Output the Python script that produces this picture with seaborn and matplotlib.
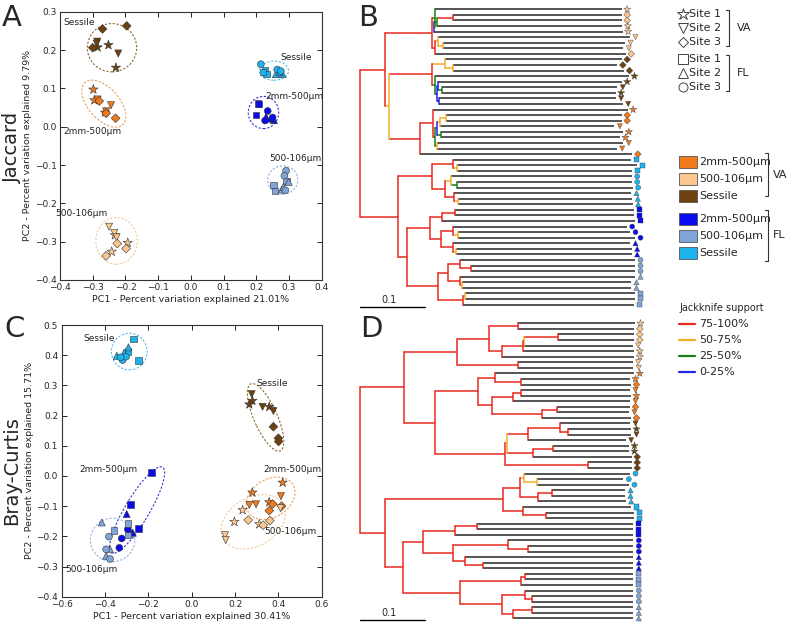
import numpy as np
import pandas as pd
import matplotlib
matplotlib.use('Agg')
import matplotlib.pyplot as plt
from matplotlib.patches import Ellipse, Rectangle
import seaborn as sns

# -----------------------------------------------------------------------------
# Groups, colours, site shapes
# -----------------------------------------------------------------------------
GROUPS = ['VA 2mm', 'VA 500', 'VA ses', 'FL 2mm', 'FL 500', 'FL ses']
GROUP_NAMES = ['2mm-500μm', '500-106μm', 'Sessile', '2mm-500μm', '500-106μm', 'Sessile']
GROUP_COLORS = {
    'VA 2mm': '#f07a1c', 'VA 500': '#fcc78e', 'VA ses': '#6e420f',
    'FL 2mm': '#0a0aee', 'FL 500': '#7fa5d8', 'FL ses': '#1cb2ee',
}
ELLIPSE_COLORS = {
    'VA 2mm': '#e8a060', 'VA 500': '#f3c99c', 'VA ses': '#8c6a30',
    'FL 2mm': '#3535cc', 'FL 500': '#93b3da', 'FL ses': '#56bde6',
}
# every group holds 9 samples: site 1, 1, 1, site 2 x3, site 3 x3
SITES = [1, 1, 1, 2, 2, 2, 3, 3, 3]
MARKERS = {'VA1': '*', 'VA2': 'v', 'VA3': 'D', 'FL1': 's', 'FL2': '^', 'FL3': 'o'}
SIZES = {'VA1': 50, 'VA2': 26, 'VA3': 20, 'FL1': 22, 'FL2': 26, 'FL3': 24}
LEAF_SIZES = {'VA1': 30, 'VA2': 14, 'VA3': 12, 'FL1': 13, 'FL2': 14, 'FL3': 13}

# -----------------------------------------------------------------------------
# PCoA coordinates — Jaccard (A)
# -----------------------------------------------------------------------------
jac_pc1 = {
    'VA 2mm': [-0.298, -0.295, -0.262, -0.244, -0.259, -0.285, -0.280, -0.259, -0.230],
    'VA 500': [-0.232, -0.193, -0.242, -0.250, -0.234, -0.227, -0.225, -0.198, -0.259],
    'VA ses': [-0.285, -0.252, -0.229, -0.286, -0.222, -0.288, -0.270, -0.196, -0.300],
    'FL 2mm': [0.206, 0.199, 0.209, 0.230, 0.254, 0.244, 0.235, 0.227, 0.250],
    'FL 500': [0.252, 0.257, 0.293, 0.278, 0.299, 0.283, 0.291, 0.286, 0.289],
    'FL ses': [0.227, 0.232, 0.220, 0.260, 0.281, 0.271, 0.214, 0.264, 0.275],
}
jac_pc2 = {
    'VA 2mm': [0.097, 0.069, 0.037, 0.056, 0.040, 0.071, 0.067, 0.035, 0.022],
    'VA 500': [-0.283, -0.303, -0.326, -0.261, -0.277, -0.289, -0.305, -0.318, -0.337],
    'VA ses': [0.207, 0.213, 0.154, 0.222, 0.191, 0.217, 0.255, 0.263, 0.206],
    'FL 2mm': [0.061, 0.030, 0.059, 0.026, 0.017, 0.021, 0.041, 0.016, 0.024],
    'FL 500': [-0.152, -0.168, -0.142, -0.164, -0.144, -0.157, -0.115, -0.128, -0.166],
    'FL ses': [0.146, 0.137, 0.143, 0.137, 0.137, 0.142, 0.163, 0.149, 0.145],
}
# ellipse: centre x, centre y, width, height, angle
jac_ell = {
    'VA 2mm': (-0.266, 0.060, 0.160, 0.088, -40),
    'VA 500': (-0.227, -0.298, 0.127, 0.122, 0),
    'VA ses': (-0.241, 0.206, 0.151, 0.126, 0),
    'FL 2mm': (0.222, 0.037, 0.093, 0.084, 0),
    'FL 500': (0.281, -0.139, 0.092, 0.074, 0),
    'FL ses': (0.254, 0.146, 0.089, 0.050, 0),
}

# -----------------------------------------------------------------------------
# PCoA coordinates — Bray-Curtis (C)
# -----------------------------------------------------------------------------
bc_pc1 = {
    'VA 2mm': [0.420, 0.280, 0.358, 0.412, 0.266, 0.297, 0.358, 0.415, 0.374],
    'VA 500': [0.235, 0.197, 0.312, 0.154, 0.157, 0.410, 0.261, 0.361, 0.330],
    'VA ses': [0.280, 0.266, 0.358, 0.277, 0.327, 0.377, 0.377, 0.400, 0.401],
    'FL 2mm': [-0.185, -0.282, -0.246, -0.300, -0.272, -0.288, -0.295, -0.323, -0.334],
    'FL 500': [-0.359, -0.295, -0.295, -0.415, -0.377, -0.395, -0.382, -0.395, -0.377],
    'FL ses': [-0.269, -0.246, -0.295, -0.292, -0.346, -0.312, -0.319, -0.303, -0.328],
}
bc_pc2 = {
    'VA 2mm': [-0.022, -0.055, -0.087, -0.067, -0.096, -0.094, -0.115, -0.100, -0.093],
    'VA 500': [-0.113, -0.152, -0.160, -0.196, -0.212, -0.107, -0.146, -0.148, -0.163],
    'VA ses': [0.249, 0.237, 0.229, 0.271, 0.229, 0.215, 0.163, 0.125, 0.114],
    'FL 2mm': [0.011, -0.094, -0.174, -0.126, -0.188, -0.179, -0.177, -0.207, -0.238],
    'FL 500': [-0.181, -0.157, -0.196, -0.154, -0.243, -0.265, -0.201, -0.243, -0.275],
    'FL ses': [0.454, 0.382, 0.412, 0.426, 0.398, 0.408, 0.384, 0.395, 0.393],
}
bc_ell = {
    'VA 2mm': (0.364, -0.074, 0.231, 0.132, 15),
    'VA 500': (0.284, -0.152, 0.305, 0.168, 15),
    'VA ses': (0.341, 0.194, 0.262, 0.100, -56),
    'FL 2mm': (-0.252, -0.113, 0.370, 0.100, 49),
    'FL 500': (-0.365, -0.212, 0.205, 0.144, 0),
    'FL ses': (-0.288, 0.412, 0.165, 0.121, 0),
}

# -----------------------------------------------------------------------------
# UPGMA trees: (node depth, jackknife class, children) ; leaves are indices
# r = 75-100 %, o = 50-75 %, g = 25-50 %, b = 0-25 %
# -----------------------------------------------------------------------------
TREE_B = (0.0, 'r', [
    (0.0385, 'r', [
        (0.1108, 'r', [
            (0.1154, 'g', [0, (0.1138, 'b', [(0.1185, 'g', [(0.1431, 'r', [1, 2]), 3]), 4])]),
            (0.1154, 'r', [(0.12, 'o', [5, (0.1277, 'o', [6, 7])]), 8])]),
        (0.0446, 'o', [
            (0.1108, 'r', [
                (0.1308, 'o', [9, (0.1431, 'o', [10, 11])]),
                (0.1154, 'g', [12, (0.1185, 'b', [(0.12, 'b', [13, (0.1262, 'g', [14, 15])]),
                                                  (0.1215, 'b', [16, 17])])])]),
            (0.0923, 'r', [
                (0.1123, 'r', [18, (0.1154, 'g', [
                    (0.1185, 'b', [(0.1231, 'o', [(0.1323, 'o', [19, 20]), 21]),
                                   (0.1246, 'g', [22, 23])]),
                    (0.1185, 'o', [24, 25])])]),
                26])])]),
    (0.0585, 'r', [
        (0.1108, 'r', [
            (0.1431, 'r', [27, (0.1492, 'o', [28, 29])]),
            (0.1308, 'r', [(0.14, 'o', [30, (0.1492, 'g', [31, 32])]),
                           (0.1446, 'r', [33, (0.1508, 'o', [34, 35])])])]),
        (0.0723, 'r', [
            (0.1077, 'r', [
                (0.1262, 'r', [(0.1462, 'r', [36, 37]), 38]),
                (0.1246, 'r', [(0.1431, 'r', [39, (0.1508, 'o', [40, 41])]),
                               (0.1431, 'r', [42, (0.1477, 'o', [43, 44])])])]),
            (0.12, 'r', [
                (0.1354, 'r', [(0.1538, 'r', [45, (0.1708, 'r', [46, 47])]),
                               (0.1538, 'r', [48, (0.1569, 'o', [49, 50])])]),
                (0.1585, 'r', [(0.1615, 'o', [51, 52]), 53])])])])])

TREE_D = (0.0, 'r', [
    (0.0677, 'r', [
        (0.1492, 'r', [
            (0.1985, 'r', [
                (0.2431, 'r', [0, 1]),
                (0.2185, 'r', [(0.2508, 'r', [(0.2523, 'o', [(0.3046, 'r', [2, 3]), 4]), 5]), 6])]),
            (0.2431, 'r', [7, 8])]),
        (0.1154, 'r', [
            (0.1815, 'r', [
                (0.2077, 'r', [9, (0.2477, 'r', [10, 11])]),
                (0.2031, 'r', [(0.2354, 'r', [(0.2477, 'r', [12, 13]), 14]),
                               (0.28, 'r', [(0.3031, 'r', [15, 16]), 17])])]),
            (0.2231, 'r', [
                (0.2262, 'o', [(0.2585, 'r', [(0.3077, 'r', [18, (0.32, 'r', [19, 20])]), 21]),
                               (0.2662, 'r', [(0.2969, 'r', [22, 23]), 24])]),
                (0.3508, 'r', [25, 26])])])]),
    (0.0385, 'r', [
        (0.22, 'r', [
            (0.2462, 'r', [(0.2523, 'o', [27, (0.2723, 'o', [28, 29])]),
                           (0.2738, 'r', [(0.2954, 'r', [30, 31]), 32])]),
            (0.2508, 'r', [33, (0.2862, 'r', [34, 35])])]),
        (0.0662, 'r', [
            (0.0969, 'r', [
                (0.1462, 'r', [(0.18, 'r', [36, 37]), 38]),
                (0.1431, 'r', [(0.2277, 'r', [39, (0.2585, 'r', [40, 41])]),
                               (0.1615, 'r', [42, (0.1892, 'r', [43, 44])])])]),
            (0.1538, 'r', [
                (0.2477, 'r', [(0.2538, 'r', [45, 46]), 47]),
                (0.2185, 'r', [(0.2538, 'r', [48, (0.2646, 'r', [49, 50])]),
                               (0.2354, 'r', [(0.2646, 'r', [51, 52]), 53])])])])])])

# leaf tip distances
ENDS_B = [0.4026, 0.4026, 0.4026, 0.4036, 0.4041, 0.4154, 0.4077, 0.4051, 0.4087,
          0.4026, 0.3959, 0.4062, 0.4138, 0.4026, 0.3959, 0.3933, 0.3933, 0.4041,
          0.4118, 0.4026, 0.4026, 0.3913, 0.4051, 0.4000, 0.4051, 0.3949, 0.4190,
          0.4169, 0.4256, 0.4180, 0.4180, 0.4180, 0.4195, 0.4169, 0.4190, 0.4195,
          0.4220, 0.4220, 0.4231, 0.4103, 0.4154, 0.4231, 0.4154, 0.4180, 0.4180,
          0.4231, 0.4231, 0.4231, 0.4231, 0.4169, 0.4169, 0.4231, 0.4231, 0.4215]
ENDS_D = [0.4231, 0.4220, 0.4220, 0.4220, 0.4195, 0.4220, 0.4220, 0.4195, 0.4205,
          0.4220, 0.4154, 0.4169, 0.4154, 0.4169, 0.4154, 0.4154, 0.4138, 0.4169,
          0.4154, 0.4169, 0.4169, 0.4087, 0.4138, 0.4138, 0.4180, 0.4180, 0.4180,
          0.4154, 0.4051, 0.4138, 0.4077, 0.4077, 0.4087, 0.4169, 0.4220, 0.4220,
          0.4205, 0.4205, 0.4205, 0.4205, 0.4205, 0.4205, 0.4205, 0.4205, 0.4205,
          0.4205, 0.4205, 0.4205, 0.4205, 0.4205, 0.4205, 0.4205, 0.4205, 0.4205]

# leaf sample group (top to bottom) and site number
LEAF_GROUPS_B = ['VA 500'] * 9 + ['VA ses'] * 9 + ['VA 2mm'] * 9 + ['FL ses'] * 9 + ['FL 2mm'] * 9 + ['FL 500'] * 9
LEAF_SITES_B = [1, 3, 3, 1, 1, 2, 2, 2, 3,
                3, 3, 3, 1, 1, 2, 1, 2, 2,
                1, 3, 3, 2, 1, 1, 2, 2, 3,
                1, 1, 1, 3, 3, 3, 2, 2, 2,
                1, 1, 1, 3, 3, 3, 2, 2, 2,
                3, 3, 3, 2, 2, 2, 1, 1, 1]
LEAF_GROUPS_D = ['VA 500'] * 9 + ['VA 2mm'] * 9 + ['VA ses'] * 9 + ['FL ses'] * 9 + ['FL 2mm'] * 9 + ['FL 500'] * 9
LEAF_SITES_D = [1, 3, 3, 3, 2, 1, 1, 2, 2,
                1, 1, 3, 2, 1, 2, 3, 2, 3,
                2, 1, 2, 2, 1, 1, 3, 3, 3,
                3, 3, 3, 2, 2, 2, 1, 1, 1,
                1, 1, 1, 3, 3, 3, 2, 2, 2,
                1, 1, 1, 3, 3, 3, 2, 2, 2]

SUPPORT_COLORS = {'r': '#e8291f', 'o': '#f2ad2c', 'g': '#1a7f1a', 'b': '#2424e6'}
SUPPORT_LABELS = ['75-100%', '50-75%', '25-50%', '0-25%']


# -----------------------------------------------------------------------------
sns.set_style('ticks')
plt.rcParams['font.family'] = ['DejaVu Sans']
plt.rcParams['axes.edgecolor'] = '#333333'

W, H = 787, 622
fig = plt.figure(figsize=(W / 100, H / 100), dpi=100)


def px_axes(left, top, right, bottom):
    return fig.add_axes([left / W, 1 - bottom / H, (right - left) / W, (bottom - top) / H])


def pcoa_frame(pc1, pc2):
    rows = []
    for g in GROUPS:
        region = g.split()[0]
        for x, y, s in zip(pc1[g], pc2[g], SITES):
            rows.append({'pc1': x, 'pc2': y, 'group': g, 'shape': f'{region}{s}'})
    return pd.DataFrame(rows)


def draw_pcoa(ax, pc1, pc2, ells, xlim, ylim, xticks, yticks, xlabel, ylabel, labels):
    for g, (cx, cy, w, h, ang) in ells.items():
        ax.add_patch(Ellipse((cx, cy), w, h, angle=ang, fill=False, ls=(0, (2, 1.5)),
                             lw=0.8, ec=ELLIPSE_COLORS[g], zorder=1))
    df = pcoa_frame(pc1, pc2)
    sns.scatterplot(data=df, x='pc1', y='pc2', hue='group', style='shape', size='shape',
                    palette=GROUP_COLORS, markers=MARKERS, sizes=SIZES,
                    edgecolor='#333333', linewidth=0.4, legend=False, ax=ax, zorder=3)
    for txt, x, y in labels:
        ax.text(x, y, txt, fontsize=6.5, ha='center', va='center', color='#222222')
    ax.set_xlim(xlim)
    ax.set_ylim(ylim)
    ax.set_xticks(xticks)
    ax.set_yticks(yticks)
    ax.tick_params(direction='in', length=3.5, width=0.7, labelsize=6.5,
                   top=True, right=True, pad=2.5)
    ax.set_xlabel(xlabel, fontsize=6.8, labelpad=2)
    ax.set_ylabel(ylabel, fontsize=6.8, labelpad=2)
    for sp in ax.spines.values():
        sp.set_linewidth(0.8)


def draw_tree(ax, node, ends, parent=None):
    if isinstance(node, int):
        ax.plot([parent, ends[node]], [node, node], color='#262626', lw=1.1,
                solid_capstyle='butt', zorder=2)
        return node
    depth, sup, kids = node
    ys = [draw_tree(ax, k, ends, depth) for k in kids]
    col = SUPPORT_COLORS[sup]
    y = (ys[0] + ys[-1]) / 2
    ax.plot([depth, depth], [ys[0], ys[-1]], color=col, lw=1.1, zorder=3,
            solid_capstyle='projecting')
    if parent is not None:
        ax.plot([parent, depth], [y, y], color=col, lw=1.1, zorder=3,
                solid_capstyle='butt')
    return y


def draw_dendrogram(ax, tree, ends, groups, sites, bar_y):
    draw_tree(ax, tree, ends)
    leaves = pd.DataFrame({
        'x': np.array(ends) + 0.0085,
        'y': np.arange(len(ends)),
        'group': groups,
        'shape': [g.split()[0] + str(s) for g, s in zip(groups, sites)],
    })
    sns.scatterplot(data=leaves, x='x', y='y', hue='group', style='shape', size='shape',
                    palette=GROUP_COLORS, markers=MARKERS, sizes=LEAF_SIZES,
                    edgecolor='#444444', linewidth=0.3, legend=False, ax=ax, zorder=4)
    ax.plot([0, 0.1], [bar_y, bar_y], color='black', lw=1.0)
    ax.text(0.045, bar_y - 0.35, '0.1', fontsize=7, ha='center', va='bottom')
    ax.set_xlim(-0.0077, 0.4462)
    ax.set_ylim(54.5, -1)
    ax.axis('off')


# ---- A : Jaccard PCoA ----
axA = px_axes(60, 11.7, 321.7, 280)
draw_pcoa(axA, jac_pc1, jac_pc2, jac_ell, (-0.4, 0.4), (-0.4, 0.3),
          np.round(np.arange(-0.4, 0.41, 0.1), 1), np.round(np.arange(-0.4, 0.31, 0.1), 1),
          'PC1 - Percent variation explained 21.01%', 'PC2 - Percent variation explained 9.79%',
          [('Sessile', -0.342, 0.271), ('Sessile', 0.321, 0.181),
           ('2mm-500μm', 0.316, 0.080), ('2mm-500μm', -0.300, -0.013),
           ('500-106μm', 0.321, -0.083), ('500-106μm', -0.336, -0.226)])

# ---- C : Bray-Curtis PCoA ----
axC = px_axes(61.7, 325, 321.7, 596.7)
draw_pcoa(axC, bc_pc1, bc_pc2, bc_ell, (-0.6, 0.6), (-0.4, 0.5),
          np.round(np.arange(-0.6, 0.61, 0.2), 1), np.round(np.arange(-0.4, 0.51, 0.1), 1),
          'PC1 - Percent variation explained 30.41%', 'PC2 - Percent variation explained 15.71%',
          [('Sessile', -0.428, 0.456), ('Sessile', 0.373, 0.307),
           ('2mm-500μm', -0.385, 0.023), ('2mm-500μm', 0.464, 0.023),
           ('500-106μm', 0.454, -0.185), ('500-106μm', -0.462, -0.309)])

# ---- B / D : dendrograms ----
axB = px_axes(355, 3.73, 650, 312.9)
draw_dendrogram(axB, TREE_B, ENDS_B, LEAF_GROUPS_B, LEAF_SITES_B, 53.4)
axD = px_axes(355, 317.7, 650, 626.7)
draw_dendrogram(axD, TREE_D, ENDS_D, LEAF_GROUPS_D, LEAF_SITES_D, 53.3)

# ---- panel letters and distance names ----
for letter, x, y in [('A', 12, 18), ('B', 368, 18), ('C', 15, 329), ('D', 371, 329)]:
    fig.text(x / W, 1 - y / H, letter, fontsize=21, ha='center', va='center')
fig.text(12 / W, 1 - 147 / H, 'Jaccard', fontsize=14, rotation=90, ha='center', va='center')
fig.text(12 / W, 1 - 471 / H, 'Bray-Curtis', fontsize=14, rotation=90, ha='center', va='center')

# ---- legends (pixel coordinates) ----
leg = px_axes(640, 0, 787, 400)
leg.set_xlim(640, 787)
leg.set_ylim(400, 0)
leg.axis('off')

site_rows = [('*', 14, 'VA'), ('v', 28, 'VA'), ('D', 42, 'VA'),
             ('s', 59, 'FL'), ('^', 73, 'FL'), ('o', 87, 'FL')]
for i, (mk, y, _) in enumerate(site_rows):
    ms = 9 if mk == '*' else 6.5 if mk != 'D' else 5.5
    leg.plot(683, y, marker=mk, ms=ms, mfc='white', mec='#444444', mew=0.7, ls='none')
    leg.text(689, y, f'Site {i % 3 + 1}', fontsize=8, va='center', ha='left')


def bracket(ax, x, y0, y1, label, lx):
    ax.plot([x - 3.5, x, x, x - 3.5], [y0, y0, y1, y1], color='#333333', lw=0.8)
    ax.text(lx, (y0 + y1) / 2, label, fontsize=8, va='center', ha='left')


bracket(leg, 729, 10, 46, 'VA', 737)
bracket(leg, 729, 55, 91, 'FL', 737)

box_rows = [156, 173, 190, 213, 230, 247]
for g, name, y in zip(GROUPS, GROUP_NAMES, box_rows):
    leg.add_patch(Rectangle((679, y), 18, 12, fc=GROUP_COLORS[g], ec='#555555', lw=0.6))
    leg.text(699, y + 6, name, fontsize=8, va='center', ha='left')
bracket(leg, 768, 153, 196, 'VA', 773)
bracket(leg, 768, 210, 261, 'FL', 773)

leg.text(679, 308, 'Jackknife support', fontsize=7, va='center', ha='left')
for (k, col), lab, y in zip(SUPPORT_COLORS.items(), SUPPORT_LABELS, [324, 340, 356, 372]):
    leg.plot([679, 695], [y, y], color=col, lw=1.6)
    leg.text(699, y, lab, fontsize=8, va='center', ha='left')

fig.savefig('out.png', dpi=100)
